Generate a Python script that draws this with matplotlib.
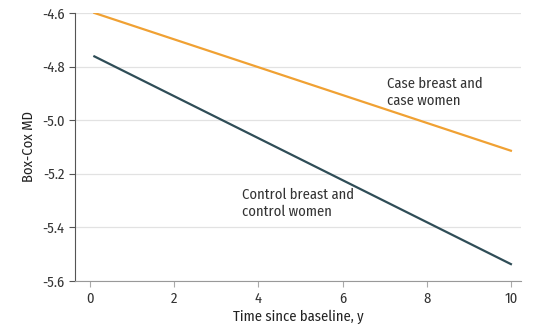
import matplotlib
matplotlib.use('Agg')
import matplotlib.pyplot as plt

# values
years = [0.1, 10]
case_md = [-4.60, -5.114]
control_md = [-4.762, -5.537]

x_ticks = [0, 2, 4, 6, 8, 10]
y_ticks = [-5.6, -5.4, -5.2, -5.0, -4.8, -4.6]

plt.rcParams['font.family'] = ['Fira Sans Condensed', 'DejaVu Sans']

fig = plt.figure(figsize=(5.49, 3.32), dpi=100)
ax = fig.add_axes([0.1366, 0.1536, 0.8124, 0.8074])

ax.plot(years, case_md, color='#f0a133', lw=1.6)
ax.plot(years, control_md, color='#2f4d57', lw=1.6)

ax.set_xlim(-0.36, 10.24)
ax.set_ylim(-5.6, -4.6)
ax.set_xticks(x_ticks)
ax.set_yticks(y_ticks)
ax.set_yticklabels([f'{v:.1f}' for v in y_ticks])
ax.yaxis.grid(True, color='#e2e2e2', lw=0.9)
ax.set_axisbelow(True)

for s in ['top', 'right']:
    ax.spines[s].set_visible(False)
ax.spines['left'].set_color('#555555')
ax.spines['bottom'].set_color('#999999')
ax.tick_params(axis='y', colors='#555555', labelcolor='#333333', labelsize=10.5, length=4)
ax.tick_params(axis='x', colors='#aaaaaa', labelcolor='#333333', labelsize=10.5, length=4)

ax.set_xlabel('Time since baseline, y', fontsize=10.5, color='#222222', labelpad=3)
ax.set_ylabel('Box-Cox MD', fontsize=10.5, color='#222222', labelpad=4)

ax.text(7.05, -4.895, 'Case breast and\ncase women', fontsize=10.5, color='#333333',
        va='center', linespacing=1.25)
ax.text(3.6, -5.31, 'Control breast and\ncontrol women', fontsize=10.5, color='#333333',
        va='center', linespacing=1.25)

fig.savefig('out.png', dpi=100)
